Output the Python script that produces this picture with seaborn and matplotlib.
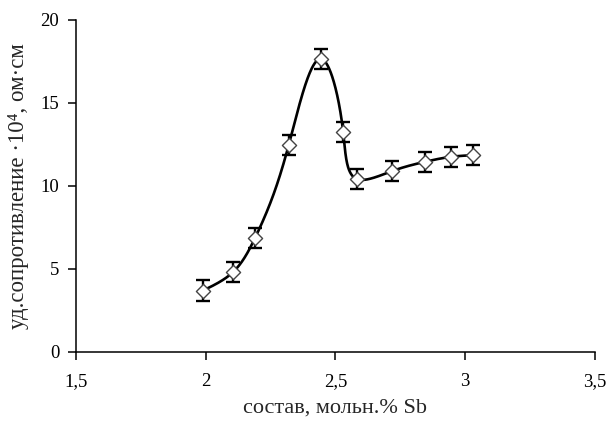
import numpy as np
import pandas as pd
import matplotlib
matplotlib.use("Agg")
import matplotlib.pyplot as plt
import seaborn as sns

# data
x_vals = [1.99, 2.105, 2.19, 2.32, 2.445, 2.53, 2.585, 2.72, 2.845, 2.945, 3.03]
y_vals = [3.7, 4.8, 6.85, 12.45, 17.65, 13.25, 10.4, 10.9, 11.45, 11.75, 11.85]
y_err = [0.65, 0.6, 0.6, 0.6, 0.6, 0.6, 0.6, 0.6, 0.6, 0.6, 0.6]
x_ticks = [1.5, 2.0, 2.5, 3.0, 3.5]
x_tick_labels = ["1,5", "2", "2,5", "3", "3,5"]
y_ticks = [0, 5, 10, 15, 20]
x_label = "состав, мольн.% Sb"
y_label = "уд.сопротивление ·10⁴, ом·см"

sns.set_theme(style="ticks")
plt.rcParams["font.family"] = ["Liberation Serif", "DejaVu Serif"]

fig = plt.figure(figsize=(6.07, 4.23), dpi=100)
ax = fig.add_axes([0.125, 0.168, 0.855, 0.785])


def natural_spline_coeffs(tk, yk):
    n = len(tk)
    h = np.diff(tk)
    A = np.zeros((n, n))
    b = np.zeros(n)
    A[0, 0] = 1.0
    A[-1, -1] = 1.0
    for i in range(1, n - 1):
        A[i, i - 1] = h[i - 1]
        A[i, i] = 2 * (h[i - 1] + h[i])
        A[i, i + 1] = h[i]
        b[i] = 3 * ((yk[i + 1] - yk[i]) / h[i] - (yk[i] - yk[i - 1]) / h[i - 1])
    c = np.linalg.solve(A, b)
    return h, c


def eval_spline(tk, yk, h, c, tt):
    out = np.empty_like(tt)
    idx = np.clip(np.searchsorted(tk, tt) - 1, 0, len(tk) - 2)
    for j, (tv, i) in enumerate(zip(tt, idx)):
        bi = (yk[i + 1] - yk[i]) / h[i] - h[i] * (2 * c[i] + c[i + 1]) / 3
        di = (c[i + 1] - c[i]) / (3 * h[i])
        dt = tv - tk[i]
        out[j] = yk[i] + bi * dt + c[i] * dt ** 2 + di * dt ** 3
    return out


# parametric smooth curve through the points (pixel-like units)
sx = 519.0 / 2.0
sy = 332.0 / 20.0
X = np.array(x_vals) * sx
Y = np.array(y_vals) * sy
d = np.sqrt(np.diff(X) ** 2 + np.diff(Y) ** 2)
tk = np.concatenate([[0], np.cumsum(d)])
tt = np.linspace(0, tk[-1], 1000)
hx, cx = natural_spline_coeffs(tk, X)
hy, cy = natural_spline_coeffs(tk, Y)
cxs = eval_spline(tk, X, hx, cx, tt)
cys = eval_spline(tk, Y, hy, cy, tt)
cdf = pd.DataFrame({"x": cxs / sx, "y": cys / sy})
ax.plot(cdf["x"], cdf["y"], color="black", lw=1.9, zorder=2)

# error bars
ax.errorbar(x_vals, y_vals, yerr=y_err, fmt="none", ecolor="black",
            elinewidth=1.7, capsize=5, capthick=1.7, zorder=3)

# open diamond markers
df = pd.DataFrame({"x": x_vals, "y": y_vals})
sns.scatterplot(data=df, x="x", y="y", marker="D", s=52, facecolor="white",
                edgecolor="#444444", linewidth=1.0, ax=ax, zorder=4)

ax.set_xlim(1.5, 3.5)
ax.set_ylim(0, 20)
ax.set_xticks(x_ticks)
ax.set_xticklabels(x_tick_labels)
ax.set_yticks(y_ticks)
ax.tick_params(axis="both", direction="out", length=6, width=1.1, labelsize=13.5, colors="black")
ax.tick_params(axis="x", pad=9)
ax.tick_params(axis="y", pad=6)
ax.spines["top"].set_visible(False)
ax.spines["right"].set_visible(False)
for s in ("left", "bottom"):
    ax.spines[s].set_linewidth(1.1)
    ax.spines[s].set_color("black")
ax.set_xlabel(x_label, fontsize=16, labelpad=6)
ax.set_ylabel(y_label, fontsize=16.5, labelpad=8)

fig.savefig("out.png", dpi=100, facecolor="white")
